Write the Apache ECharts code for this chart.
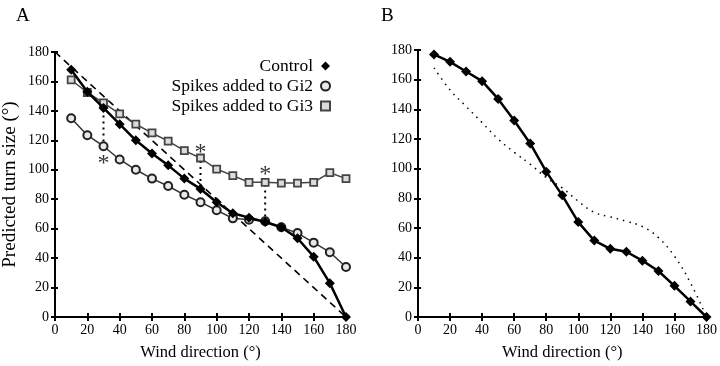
<!DOCTYPE html>
<html>
<head>
<meta charset="utf-8">
<script src="https://cdn.jsdelivr.net/npm/echarts@6/dist/echarts.min.js"></script>
<style>
  html, body { margin: 0; padding: 0; background: #fff; }
  #chart { width: 720px; height: 366px; }
</style>
</head>
<body>
<div id="chart"></div>
<script>
// wind direction (deg)
const windDir = [10, 20, 30, 40, 50, 60, 70, 80, 90, 100, 110, 120, 130, 140, 150, 160, 170, 180];
// panel A
const controlA = [168, 153, 142, 131, 120, 111, 103, 94, 87, 78, 70.5, 67.5, 64.5, 61, 53.5, 41, 23, 0];
const gi2A = [135, 123.5, 116, 107, 100, 94, 89, 83, 78, 72.5, 67, 66, 65, 61, 57, 50.5, 44, 34];
const gi3A = [161, 152.5, 145.5, 138, 131, 125, 119.5, 113, 108, 100.5, 96, 91.5, 91.5, 91, 91, 91.5, 98, 94];
// straight reference line
const refX = [0, 180];
const refY = [180, 0];
// significance markers
const starX = [30, 90, 130];
const starY = [108, 116, 101];
const dropTop = [141, 106, 90];
const dropBottom = [118, 89, 67];
// panel B
const controlB = [177, 172, 165.5, 159, 147, 132.5, 117, 98, 82, 64, 51.5, 46, 44, 38, 31, 21, 10.5, 0];

const FONT = '"Liberation Serif", "DejaVu Serif", serif';
const pair = (xs, ys) => xs.map((x, i) => [x, ys[i]]);

const chart = echarts.init(document.getElementById('chart'));

const tickStyle = { color: '#000', width: 2 };

// main axis + a twin with inside ticks so the ticks cross the axis line
function xAx(grid, main) {
  return {
    type: 'value', gridIndex: grid, position: 'bottom', min: 0, max: 180, interval: 20,
    axisLine: { onZero: false, lineStyle: { color: '#000', width: 2 } },
    axisTick: { show: true, inside: !main, length: 4, lineStyle: tickStyle },
    axisLabel: { show: main, color: '#000', fontFamily: FONT, fontSize: 14, margin: 6 },
    splitLine: { show: false },
    name: main ? 'Wind direction (°)' : '',
    nameLocation: 'middle', nameGap: 27,
    nameTextStyle: { color: '#000', fontFamily: FONT, fontSize: 16.5 }
  };
}
function yAx(grid, main, nm) {
  return {
    type: 'value', gridIndex: grid, position: 'left', min: 0, max: 180, interval: 20,
    axisLine: { show: true, onZero: false, lineStyle: { color: '#000', width: 2 } },
    axisTick: { show: true, inside: !main, length: main ? 4 : 3, lineStyle: tickStyle },
    axisLabel: { show: main, color: '#000', fontFamily: FONT, fontSize: 14, margin: 6 },
    splitLine: { show: false },
    name: main ? nm : '', nameLocation: 'middle', nameGap: 35,
    nameTextStyle: { color: '#000', fontFamily: FONT, fontSize: 19 }
  };
}

const series = [
  {
    name: 'ref', type: 'line', xAxisIndex: 0, yAxisIndex: 0,
    data: pair(refX, refY), symbol: 'none', silent: true,
    lineStyle: { color: '#000', width: 1.6, type: [7, 5] }, z: 1
  }
];
starX.forEach((x, i) => {
  series.push({
    name: 'drop' + i, type: 'line', xAxisIndex: 0, yAxisIndex: 0,
    data: [[x, dropTop[i]], [x, dropBottom[i]]], symbol: 'none', silent: true,
    lineStyle: { color: '#000', width: 2, type: [2, 4] }, z: 1
  });
});
series.push(
  {
    name: 'Spikes added to Gi3', type: 'line', xAxisIndex: 0, yAxisIndex: 0,
    data: pair(windDir, gi3A), symbol: 'rect', symbolSize: 7,
    lineStyle: { color: '#444', width: 1.5 },
    itemStyle: { color: '#dcdcdc', borderColor: '#444', borderWidth: 1.8 }, z: 3
  },
  {
    name: 'Spikes added to Gi2', type: 'line', xAxisIndex: 0, yAxisIndex: 0,
    data: pair(windDir, gi2A), symbol: 'circle', symbolSize: 8,
    lineStyle: { color: '#333', width: 1.5 },
    itemStyle: { color: '#e8e8e8', borderColor: '#222', borderWidth: 2 }, z: 4
  },
  {
    name: 'Control', type: 'line', xAxisIndex: 0, yAxisIndex: 0,
    data: pair(windDir, controlA), symbol: 'diamond', symbolSize: 10,
    lineStyle: { color: '#000', width: 2.5 },
    itemStyle: { color: '#000' }, z: 5
  },
  {
    name: 'stars', type: 'scatter', xAxisIndex: 0, yAxisIndex: 0,
    data: pair(starX, starY), symbolSize: 1, silent: true,
    itemStyle: { color: 'rgba(0,0,0,0)' },
    label: { show: true, formatter: '*', position: 'inside', color: '#000',
      fontFamily: FONT, fontSize: 24, offset: [0, 6] }, z: 6
  },
  {
    name: 'controlDotted', type: 'line', xAxisIndex: 2, yAxisIndex: 2,
    data: pair(windDir, controlA), symbol: 'none', smooth: 0.4, silent: true,
    lineStyle: { color: '#000', width: 1.5, type: [1.5, 5] }, z: 2
  },
  {
    name: 'ControlB', type: 'line', xAxisIndex: 2, yAxisIndex: 2,
    data: pair(windDir, controlB), symbol: 'diamond', symbolSize: 10,
    lineStyle: { color: '#000', width: 2.5 },
    itemStyle: { color: '#000' }, z: 5
  }
);

chart.setOption({
  backgroundColor: '#fff',
  animation: false,
  title: [
    { text: 'A', left: 11, top: 2, textStyle: { fontFamily: FONT, fontSize: 19, fontWeight: 'normal', color: '#000' } },
    { text: 'B', left: 376, top: 2, textStyle: { fontFamily: FONT, fontSize: 19, fontWeight: 'normal', color: '#000' } }
  ],
  legend: {
    data: [
      { name: 'Control', icon: 'diamond' },
      { name: 'Spikes added to Gi2', icon: 'circle' },
      { name: 'Spikes added to Gi3', icon: 'rect' }
    ],
    orient: 'vertical', align: 'right', right: 384, top: 52,
    itemGap: 2, itemWidth: 9, itemHeight: 9,
    textStyle: { fontFamily: FONT, fontSize: 17.5, color: '#000', padding: [0, 3, 0, 0] },
    selectedMode: false
  },
  grid: [
    { left: 55, right: 374, top: 52, bottom: 46 },
    { left: 418, right: 12, top: 50, bottom: 47 }
  ],
  xAxis: [xAx(0, true), xAx(0, false), xAx(1, true), xAx(1, false)],
  yAxis: [yAx(0, true, 'Predicted turn size (°)'), yAx(0, false, ''), yAx(1, true, ''), yAx(1, false, '')],
  series: series
});
</script>
</body>
</html>
